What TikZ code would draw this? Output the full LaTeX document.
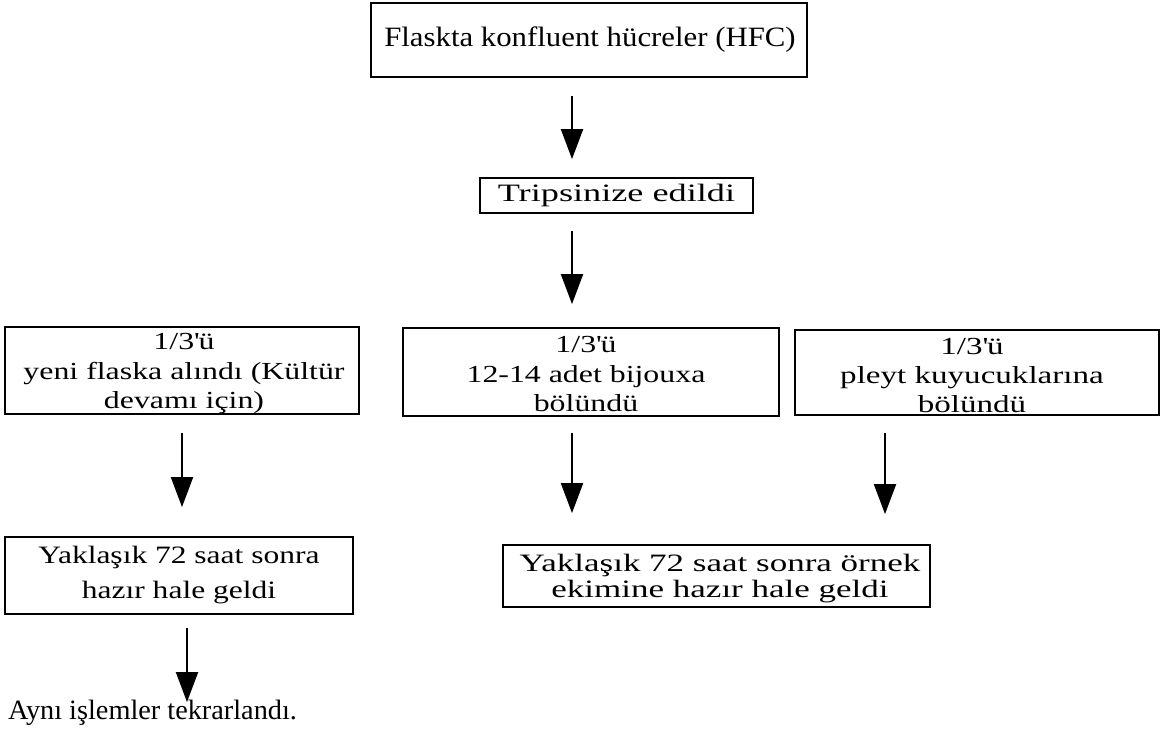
\documentclass[tikz,border=0pt]{standalone}
\usepackage{fontspec}
\setmainfont{Liberation Serif}
\usetikzlibrary{arrows.meta}
\newcommand{\tq}{\textquotesingle}
\begin{document}
\begin{tikzpicture}[x=1pt,y=-1pt,
  box/.style={draw, line width=1.8pt, inner sep=0pt},
  txt/.style n args={3}{align=center, inner sep=0pt,
    font=\fontsize{#1}{#2}\selectfont\addfontfeatures{FakeStretch=#3}},
  arr/.style={line width=2pt, -{Triangle[width=22pt,length=30pt]}}]
\useasboundingbox (0,0) rectangle (1174,736);

% boxes
\node[box, minimum width=436pt, minimum height=74pt] (hfc) at (589,40) {};
\node[box, minimum width=273pt, minimum height=35pt] (trip) at (616.5,195.5) {};
\node[box, minimum width=354pt, minimum height=87pt] (flask) at (182,370.5) {};
\node[box, minimum width=376pt, minimum height=88pt] (bij) at (591,372) {};
\node[box, minimum width=364pt, minimum height=85pt] (pleyt) at (977,372.5) {};
\node[box, minimum width=348pt, minimum height=77pt] (ready1) at (179,575.5) {};
\node[box, minimum width=427pt, minimum height=62pt] (ready2) at (716.5,576) {};

% box texts
\node[txt={28}{32}{1.10}] (hfc-t) at (590,40) {Flaskta konfluent hücreler (HFC)};
\node[txt={25}{30}{1.45}] (trip-t) at (616.5,195.5) {Tripsinize edildi};
\node[txt={24.5}{29.5}{1.30}] (flask-t) at (184,373.5)
  {1/3\tq ü\\yeni flaska alındı (Kültür\\devamı için)};
\node[txt={24.5}{29.5}{1.30}] (bij-t) at (586,374.5)
  {1/3\tq ü\\12-14 adet bijouxa\\bölündü};
\node[txt={24.5}{29}{1.35}] (pleyt-t) at (972,375.5)
  {1/3\tq ü\\pleyt kuyucuklarına\\bölündü};
\node[txt={25}{35}{1.26}] (ready1-t) at (179,575.5)
  {Yaklaşık 72 saat sonra\\hazır hale geldi};
\node[txt={25}{26}{1.40}] (ready2-t) at (720,578.5)
  {Yaklaşık 72 saat sonra örnek\\ekimine hazır hale geldi};

\node[txt={28}{32}{1.01}, anchor=west] (rep) at (8,713) {Aynı işlemler tekrarlandı.};

% connectors
\draw[arr, shorten <=18pt, shorten >=18pt] (hfc.south -| 572,0) -- (trip.north -| 572,0);
\draw[arr, shorten <=17pt, shorten >=23pt] (trip.south -| 572,0) -- (bij.north -| 572,0);
\draw[arr, shorten <=18pt, shorten >=29pt] (flask.south -| 182,0) -- (ready1.north -| 182,0);
\draw[arr, shorten <=16pt, shorten >=31pt] (bij.south -| 572,0) -- (ready2.north -| 572,0);
\draw[arr, shorten <=17pt, shorten >=30pt] (pleyt.south -| 885,0) -- (ready2.north -| 885,0);
\draw[arr, shorten <=13pt, shorten >=-2pt] (ready1.south -| 187,0) -- (rep.north -| 187,0);
\end{tikzpicture}
\end{document}
